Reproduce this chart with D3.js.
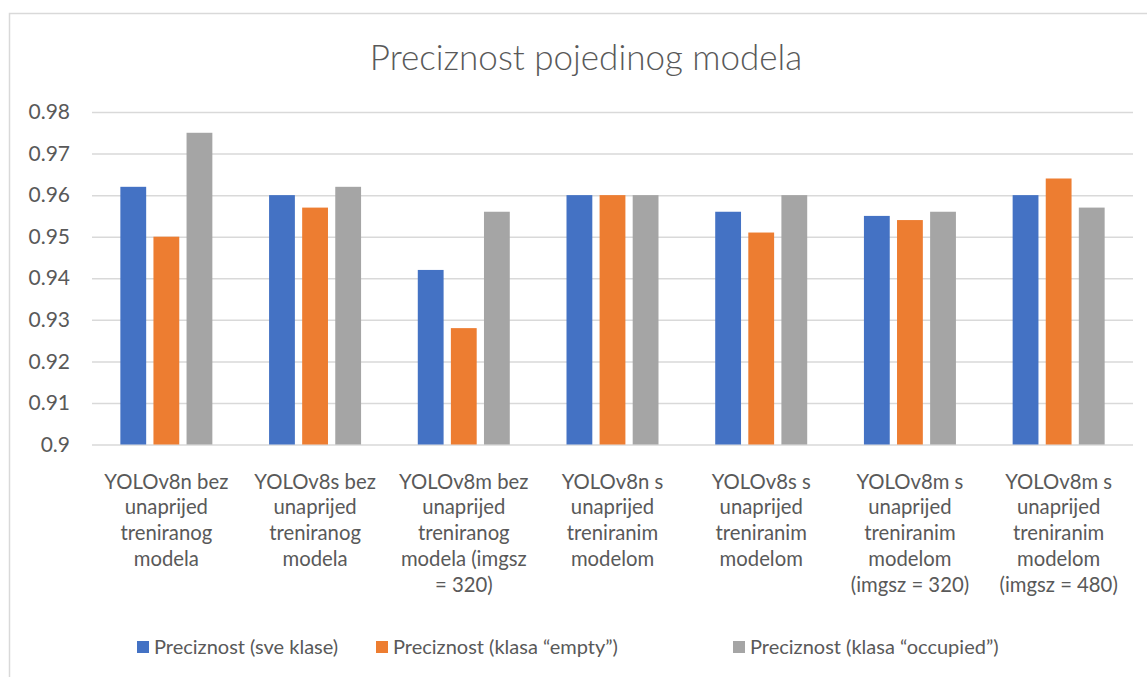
<!DOCTYPE html>
<html>
<head>
<meta charset="utf-8">
<script src="https://cdn.jsdelivr.net/npm/d3@7"></script>
<style>
  html, body { margin: 0; padding: 0; background: #fff; }
  svg { display: block; }
  text { font-family: Lato, "Open Sans", sans-serif; fill: #595959; }
</style>
</head>
<body>
<svg id="chart" width="1147" height="677"></svg>
<script>
const title = "Preciznost pojedinog modela";
const categories = [
  "YOLOv8n bez\nunaprijed\ntreniranog\nmodela",
  "YOLOv8s bez\nunaprijed\ntreniranog\nmodela",
  "YOLOv8m bez\nunaprijed\ntreniranog\nmodela (imgsz\n= 320)",
  "YOLOv8n s\nunaprijed\ntreniranim\nmodelom",
  "YOLOv8s s\nunaprijed\ntreniranim\nmodelom",
  "YOLOv8m s\nunaprijed\ntreniranim\nmodelom\n(imgsz = 320)",
  "YOLOv8m s\nunaprijed\ntreniranim\nmodelom\n(imgsz = 480)"
];
const seriesNames = [
  "Preciznost (sve klase)",
  "Preciznost (klasa \u201cempty\u201d)",
  "Preciznost (klasa \u201coccupied\u201d)"
];
const seriesAll      = [0.962, 0.960, 0.942, 0.960, 0.956, 0.955, 0.960];
const seriesEmpty    = [0.950, 0.957, 0.928, 0.960, 0.951, 0.954, 0.964];
const seriesOccupied = [0.975, 0.962, 0.956, 0.960, 0.960, 0.956, 0.957];
const yTicks = [0.9, 0.91, 0.92, 0.93, 0.94, 0.95, 0.96, 0.97, 0.98];
const colors = ["#4472C4", "#ED7D31", "#A5A5A5"];

const seriesValues = [seriesAll, seriesEmpty, seriesOccupied];

const svg = d3.select("#chart");

// outer chart border
svg.append("rect")
  .attr("x", 9.5).attr("y", 13.5)
  .attr("width", 1200).attr("height", 700)
  .attr("fill", "none").attr("stroke", "#d9d9d9").attr("stroke-width", 1.5);

// title
svg.append("text")
  .attr("x", 586).attr("y", 70)
  .attr("text-anchor", "middle")
  .style("font-size", "35px")
  .style("font-weight", 300)
  .text(title);

const plotLeft = 92, plotRight = 1133, plotTop = 112, plotBottom = 444.5;

const x = d3.scaleBand().domain(d3.range(categories.length))
  .range([plotLeft, plotRight]).paddingInner(0).paddingOuter(0);
const y = d3.scaleLinear().domain([0.9, 0.98]).range([plotBottom, plotTop]);

// gridlines
const grid = svg.append("g").attr("transform", `translate(${plotLeft},0)`)
  .call(d3.axisLeft(y).tickValues(yTicks).tickSize(-(plotRight - plotLeft)).tickFormat(""));
grid.select(".domain").remove();
grid.selectAll(".tick line").attr("stroke", "#d9d9d9").attr("stroke-width", 1.5);

// y labels
const yAxis = svg.append("g").attr("transform", `translate(70,0)`)
  .call(d3.axisLeft(y).tickValues(yTicks).tickSize(0).tickPadding(0)
    .tickFormat(d => d3.format("")(+d.toFixed(2))));
yAxis.select(".domain").remove();
yAxis.selectAll("text")
  .style("font-size", "21px").style("font-family", "Lato, sans-serif")
  .attr("fill", "#595959");

// bars
const inner = d3.scaleBand().domain(d3.range(seriesValues.length))
  .range([0, 92]).paddingInner(0.22);
const groupOffset = (x.bandwidth() - 92) / 2;

seriesValues.forEach((vals, si) => {
  svg.append("g").selectAll("rect")
    .data(vals)
    .join("rect")
    .attr("x", (d, i) => x(i) + groupOffset + inner(si))
    .attr("y", d => y(d))
    .attr("width", inner.bandwidth())
    .attr("height", d => y(0.9) - y(d))
    .attr("fill", colors[si]);
});

// x category labels
const xl = svg.append("g");
categories.forEach((c, i) => {
  const t = xl.append("text")
    .attr("text-anchor", "middle")
    .style("font-size", "20.3px");
  c.split("\n").forEach((line, li) => {
    t.append("tspan")
      .attr("x", x(i) + x.bandwidth() / 2)
      .attr("y", 488.5 + li * 25.8)
      .text(line);
  });
});

// legend
const legendX = [137, 376, 733];
seriesNames.forEach((n, i) => {
  svg.append("rect")
    .attr("x", legendX[i]).attr("y", 641)
    .attr("width", 12).attr("height", 12)
    .attr("fill", colors[i]);
  svg.append("text")
    .attr("x", legendX[i] + 17).attr("y", 654)
    .style("font-size", "20px")
    .text(n);
});
</script>
</body>
</html>
